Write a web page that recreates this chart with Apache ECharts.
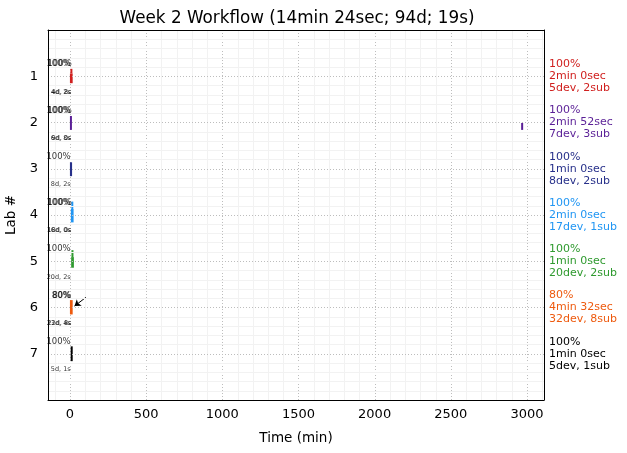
<!DOCTYPE html>
<html><head><meta charset="utf-8">
<script src="https://cdn.jsdelivr.net/npm/echarts@6/dist/echarts.min.js"></script>
<style>html,body{margin:0;padding:0;background:#fff}#c{width:627px;height:453px}</style>
</head><body><div id="c"></div>
<script>
var labs = [1, 2, 3, 4, 5, 6, 7];
var labColors = ['#d0201f', '#5a1f96', '#27308a', '#2196f3', '#2f9a2f', '#ee5a0e', '#000000'];
var rightLines = [
  ['100%', '2min 0sec', '5dev, 2sub'],
  ['100%', '2min 52sec', '7dev, 3sub'],
  ['100%', '1min 0sec', '8dev, 2sub'],
  ['100%', '2min 0sec', '17dev, 1sub'],
  ['100%', '1min 0sec', '20dev, 2sub'],
  ['80%', '4min 32sec', '32dev, 8sub'],
  ['100%', '1min 0sec', '5dev, 1sub']
];
// segments per lab: [startMin, endMin, yFrom, yTo]
var segLab1 = [[3, 9, 0.84, 0.94], [0, 18, 0.94, 1.15]];
var segLab2 = [[0, 12, 1.86, 2.16], [2962, 2972, 2.01, 2.16]];
var segLab3 = [[0, 14, 2.86, 3.16]];
var segLab4 = [[9, 14, 3.71, 3.87], [6, 24, 3.87, 4.16]];
var segLab5 = [[10, 15, 4.76, 4.91], [8, 26, 4.91, 5.14]];
var segLab6 = [[0, 18, 5.84, 6.15]];
var segLab7 = [[5, 16, 6.84, 7.16]];
var segs = [segLab1, segLab2, segLab3, segLab4, segLab5, segLab6, segLab7];
// small labels: [x, y, text]
var topLabels = [
  [[5, 0.74, '100%'], [12, 0.74, '100%']],
  [[5, 1.74, '100%'], [12, 1.74, '100%']],
  [[5, 2.74, '100%']],
  [[5, 3.74, '100%'], [12, 3.74, '100%']],
  [[5, 4.74, '100%']],
  [[5, 5.74, '80%'], [9, 5.74, '80%']],
  [[5, 6.74, '100%']]
];
var bottomLabels = [
  [[5, 1.34, '4d, 2s'], [10, 1.34, '4d, 8s']],
  [[5, 2.34, '6d, 8s'], [10, 2.34, '9d, 0s']],
  [[5, 3.34, '8d, 2s']],
  [[5, 4.34, '16d, 0s'], [10, 4.34, '18d, 0s']],
  [[5, 5.34, '20d, 2s']],
  [[5, 6.34, '23d, 4s'], [10, 6.34, '22d, 8s']],
  [[5, 7.34, '5d, 1s']]
];
var arrowFrom = [105, 5.78];
var arrowTo = [30, 5.97];
var xTicks = [0, 500, 1000, 1500, 2000, 2500, 3000];
var xMinorStep = 100;
var xMin = -144, xMax = 3112;
var yMin = 0, yMax = 8;

var FONT = 'DejaVu Sans';
var chart = echarts.init(document.getElementById('c'));

var minorX = [];
for (var v = -100; v <= 3100; v += xMinorStep) minorX.push(v);

var rich = {};
labColors.forEach(function (c, i) { rich['c' + i] = { color: c, fontSize: 11, lineHeight: 12, fontFamily: FONT }; });

var series = [];
series.push({
  type: 'custom', silent: true, z: 0,
  data: minorX.map(function (v) { return [v, xTicks.indexOf(v) >= 0 ? 1 : 0]; }),
  renderItem: function (params, api) {
    var x = api.value(0), major = api.value(1);
    var p1 = api.coord([x, yMin]), p2 = api.coord([x, yMax]);
    return {
      type: 'line', shape: { x1: Math.round(p1[0]) + 0.5, y1: p1[1], x2: Math.round(p1[0]) + 0.5, y2: p2[1] },
      style: major ? { stroke: '#bdbdbd', lineWidth: 1, lineDash: [1, 2] } : { stroke: '#f2f2f2', lineWidth: 1 }
    };
  }
});
segs.forEach(function (list, i) {
  series.push({
    type: 'custom', z: 3,
    data: list,
    renderItem: function (params, api) {
      var a = api.coord([api.value(0), api.value(2)]);
      var b = api.coord([api.value(1), api.value(3)]);
      var w = Math.max(2, b[0] - a[0]);
      return { type: 'rect', shape: { x: a[0], y: a[1], width: w, height: b[1] - a[1] }, style: { fill: labColors[i] } };
    }
  });
});
var topData = [], botData = [];
topLabels.forEach(function (l) { l.forEach(function (d) { topData.push(d); }); });
bottomLabels.forEach(function (l) { l.forEach(function (d) { botData.push(d); }); });
series.push({
  type: 'scatter', symbolSize: 0, z: 4, silent: true, data: topData,
  label: { show: true, position: 'inside', align: 'right', verticalAlign: 'middle', fontSize: 8.5, color: '#000', fontFamily: FONT,
    formatter: function (p) { return p.data[2]; } }
});
series.push({
  type: 'scatter', symbolSize: 0, z: 4, silent: true, data: botData,
  label: { show: true, position: 'inside', align: 'right', verticalAlign: 'middle', fontSize: 6.5, color: '#000', fontFamily: FONT,
    formatter: function (p) { return p.data[2]; } }
});
series.push({
  type: 'lines', coordinateSystem: 'cartesian2d', z: 5, silent: true,
  symbol: ['none', 'arrow'], symbolSize: 6,
  lineStyle: { color: '#000', width: 1, opacity: 1 },
  data: [{ coords: [arrowFrom, arrowTo] }]
});

var blackLine = { show: true, onZero: false, lineStyle: { color: '#000', width: 1 } };
chart.setOption({
  animation: false,
  backgroundColor: '#fff',
  title: { text: 'Week 2 Workflow (14min 24sec; 94d; 19s)', left: 292, top: 5, textAlign: 'center',
    textStyle: { fontSize: 16.8, fontWeight: 'normal', color: '#000', fontFamily: FONT } },
  grid: { left: 48, right: 83, top: 30, bottom: 53, show: false, containLabel: false, outerBoundsMode: 'none' },
  xAxis: [{
    type: 'value', min: xMin, max: xMax, position: 'bottom', z: 10,
    name: 'Time (min)', nameLocation: 'middle', nameGap: 31,
    nameTextStyle: { fontSize: 13.5, color: '#000', fontFamily: FONT },
    axisLine: blackLine, axisTick: { show: false }, splitLine: { show: false },
    axisLabel: { customValues: xTicks, fontSize: 13, color: '#000', fontFamily: FONT, margin: 8,
      formatter: function (v) { return String(v); } }
  }, {
    type: 'value', min: xMin, max: xMax, position: 'top', z: 10,
    axisLine: blackLine, axisTick: { show: false }, splitLine: { show: false }, axisLabel: { show: false }
  }],
  yAxis: [{
    type: 'value', min: yMin, max: yMax, interval: 1, inverse: true, z: 10,
    name: 'Lab #', nameLocation: 'middle', nameGap: 27,
    nameTextStyle: { fontSize: 13.5, color: '#000', fontFamily: FONT },
    axisLine: blackLine, axisTick: { show: false },
    axisLabel: { fontSize: 13, color: '#000', fontFamily: FONT, margin: 10,
      formatter: function (v) { return labs.indexOf(v) >= 0 ? String(v) : ''; } },
    splitLine: { show: true, lineStyle: { color: '#bdbdbd', type: [1, 2], width: 1 } },
    minorTick: { show: false, splitNumber: 5 },
    minorSplitLine: { show: true, lineStyle: { color: '#f2f2f2', width: 1 } }
  }, {
    type: 'value', min: yMin, max: yMax, interval: 1, inverse: true, position: 'right', z: 10,
    axisLine: blackLine, axisTick: { show: false }, splitLine: { show: false },
    axisLabel: { margin: 5, align: 'left', rich: rich,
      formatter: function (v) {
        var i = labs.indexOf(v);
        if (i < 0) return '';
        return rightLines[i].map(function (t) { return '{c' + i + '|' + t + '}'; }).join('\n');
      } }
  }],
  series: series
});
</script></body></html>
